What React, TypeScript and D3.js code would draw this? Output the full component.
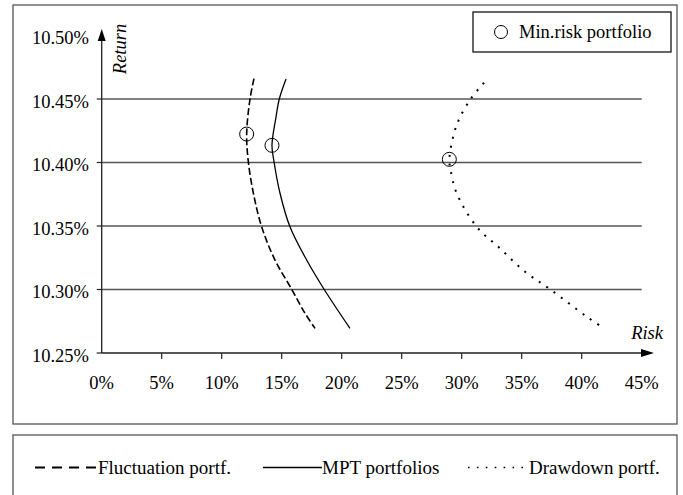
import React from "react";
import * as d3 from "d3";

const fluctRisk = [12.69, 12.36, 12.08, 12.22, 12.64, 13.33, 14.44, 15.83, 16.94, 17.78];
const fluctRet = [10.466, 10.45, 10.4224, 10.4006, 10.3758, 10.3494, 10.3232, 10.3002, 10.2813, 10.2694];

const mptRisk = [15.36, 14.8, 14.53, 14.19, 14.36, 14.86, 15.69, 17.08, 18.53, 20.69];
const mptRet = [10.4657, 10.45, 10.436, 10.4135, 10.4006, 10.3758, 10.3494, 10.3232, 10.3002, 10.2694];

const ddRisk = [31.86, 30.75, 29.58, 28.97, 29.08, 29.58, 31.25, 33.19, 35.28, 37.36, 40.42, 41.86];
const ddRet = [10.4628, 10.45, 10.4295, 10.4025, 10.394, 10.3758, 10.3494, 10.3324, 10.314, 10.3002, 10.2786, 10.2694];

const minRiskX = [12.08, 14.19, 28.97];
const minRiskY = [10.4224, 10.4135, 10.4025];

const xTicks = [0, 5, 10, 15, 20, 25, 30, 35, 40, 45];
const yTicks = [10.25, 10.3, 10.35, 10.4, 10.45, 10.5];
const gridTicks = [10.3, 10.35, 10.4, 10.45];

const seriesNames = ["Fluctuation portf.", "MPT portfolios", "Drawdown portf."];

const FONT = "Liberation Serif";

export default function App() {
  const x = d3.scaleLinear().domain([0, 45]).range([101.7, 641.7]);
  const y = d3.scaleLinear().domain([10.25, 10.5]).range([353, 35.5]);
  const line = d3
    .line<[number, number]>()
    .x((d) => x(d[0]))
    .y((d) => y(d[1]))
    .curve(d3.curveCatmullRom.alpha(0.5));
  const zip = (a: number[], b: number[]) => a.map((v, i) => [v, b[i]] as [number, number]);

  const axisColor = "#222";
  const gridColor = "#555";
  const x0 = x(0);
  const y0 = y(10.25);
  const T = { fontFamily: FONT, fontSize: 18.5, fill: "#000" } as const;
  const L = { fontFamily: FONT, fontSize: 19, fill: "#000" } as const;

  return (
    <div style={{ position: "absolute", left: 0, top: 0 }}>
      <svg width={683} height={495} style={{ display: "block" }}>
        <rect x={0} y={0} width={683} height={495} fill="#fff" />
        <rect x={13} y={5} width={664} height={419} fill="none" stroke="#555" strokeWidth={1.3} />
        <rect x={13} y={435} width={664} height={70} fill="none" stroke="#555" strokeWidth={1.3} />

        {gridTicks.map((t) => (
          <line key={t} x1={x0} x2={x(45)} y1={y(t)} y2={y(t)} stroke={gridColor} strokeWidth={1.3} />
        ))}

        <line x1={x0} x2={x0} y1={y0} y2={38} stroke={axisColor} strokeWidth={1.3} />
        <path d={`M${x0},29 L${x0 - 4},41 L${x0 + 4},41 Z`} fill="#000" />
        <line x1={x0} x2={643} y1={y0} y2={y0} stroke={axisColor} strokeWidth={1.3} />
        <path d={`M654,${y0} L641,${y0 - 4} L641,${y0 + 4} Z`} fill="#000" />

        {yTicks.map((t) => (
          <g key={t}>
            {t < 10.5 && <line x1={x0 - 5} x2={x0} y1={y(t)} y2={y(t)} stroke={axisColor} strokeWidth={1.2} />}
            <text x={89} y={y(t) + 8.5} textAnchor="end" {...T}>
              {t.toFixed(2)}%
            </text>
          </g>
        ))}

        {xTicks.map((t) => (
          <g key={t}>
            {t > 0 && t < 45 && (
              <line x1={x(t)} x2={x(t)} y1={y0} y2={y0 + 6} stroke={axisColor} strokeWidth={1.2} />
            )}
            <text x={x(t)} y={388.5} textAnchor="middle" {...T}>
              {t}%
            </text>
          </g>
        ))}

        <text transform={`translate(126,49) rotate(-90)`} textAnchor="middle" fontStyle="italic" {...T}>
          Return
        </text>
        <text x={663} y={339} textAnchor="end" fontStyle="italic" {...T}>
          Risk
        </text>

        <path d={line(zip(fluctRisk, fluctRet)) || ""} fill="none" stroke="#000" strokeWidth={1.6} strokeDasharray="7 3" />
        <path d={line(zip(mptRisk, mptRet)) || ""} fill="none" stroke="#000" strokeWidth={1.3} />
        <path d={line(zip(ddRisk, ddRet)) || ""} fill="none" stroke="#000" strokeWidth={2} strokeDasharray="2 7" />

        {minRiskX.map((v, i) => (
          <circle key={i} cx={x(v)} cy={y(minRiskY[i])} r={7} fill="none" stroke="#000" strokeWidth={1} />
        ))}

        <rect x={473} y={12} width={198} height={40} fill="#fff" stroke="#000" strokeWidth={1.2} />
        <circle cx={501} cy={32} r={6.5} fill="none" stroke="#000" strokeWidth={1} />
        <text x={519} y={38} {...T}>
          Min.risk portfolio
        </text>

        <line x1={35} x2={97} y1={467.5} y2={467.5} stroke="#000" strokeWidth={1.8} strokeDasharray="10 7" />
        <text x={98} y={473.5} {...L}>{seriesNames[0]}</text>
        <line x1={263} x2={322} y1={467.5} y2={467.5} stroke="#000" strokeWidth={1.3} />
        <text x={322} y={473.5} {...L}>{seriesNames[1]}</text>
        <line x1={468} x2={524} y1={467.5} y2={467.5} stroke="#000" strokeWidth={1.6} strokeDasharray="1.6 7.3" />
        <text x={529} y={473.5} {...L}>{seriesNames[2]}</text>
      </svg>
    </div>
  );
}
